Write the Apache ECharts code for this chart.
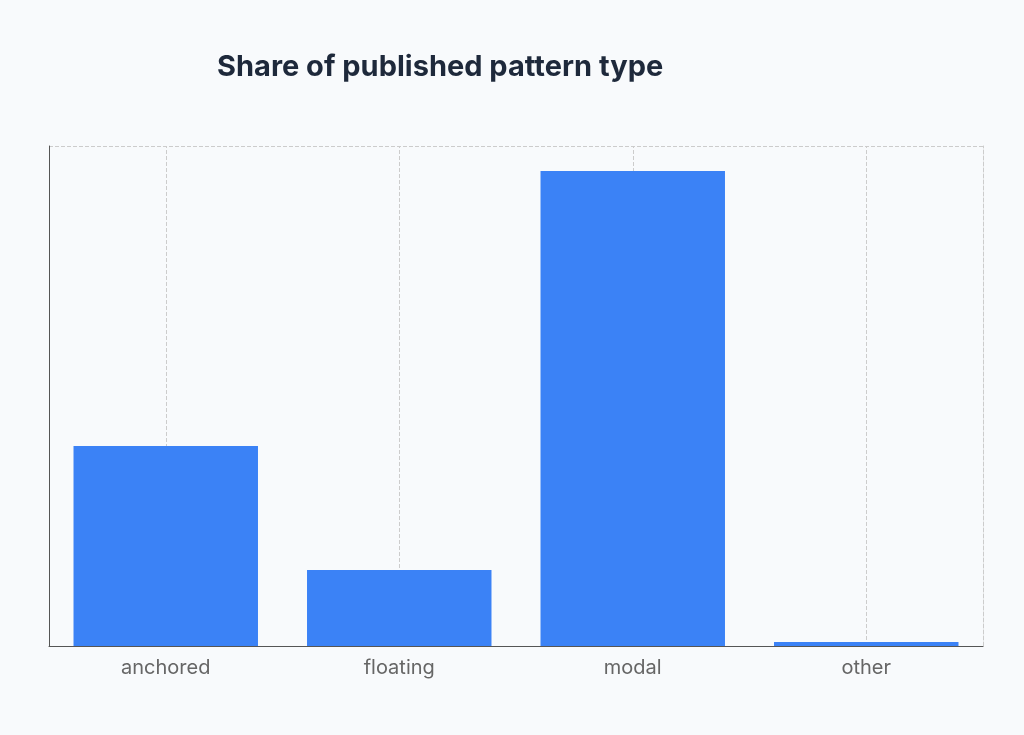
<!DOCTYPE html>
<html><head><meta charset="utf-8">
<script src="https://cdn.jsdelivr.net/npm/echarts@6/dist/echarts.min.js"></script>
<style>html,body{margin:0;background:#f8fafc}#c{width:1024px;height:735px}</style>
</head><body><div id="c"></div>
<script>
const categories = ['anchored', 'floating', 'modal', 'other'];
const values = [40, 15.2, 95, 0.8];
const chart = echarts.init(document.getElementById('c'));
chart.setOption({
  backgroundColor: '#f8fafc',
  title: { text: 'Share of published pattern type', left: 212, top: 48,
    textStyle: { fontFamily: 'Inter', fontWeight: 'bold', fontSize: 29, color: '#1e293b' } },
  grid: { left: 49, right: 41, top: 146, bottom: 89 },
  xAxis: { type: 'category', data: categories,
    axisLine: { lineStyle: { color: '#555' } }, axisTick: { show: false },
    axisLabel: { fontFamily: 'Inter', fontSize: 20, color: '#666', margin: 12 } },
  yAxis: [
    { type: 'value', min: 0, max: 100, interval: 100,
      axisLine: { show: true, lineStyle: { color: '#555' } }, axisLabel: { show: false },
      axisTick: { show: false },
      splitLine: { lineStyle: { type: 'dashed', color: '#ccc' } } },
    { type: 'value', min: 0, max: 100, interval: 100, position: 'right',
      axisLine: { show: true, lineStyle: { type: 'dashed', color: '#ccc' } },
      axisLabel: { show: false }, axisTick: { show: false }, splitLine: { show: false } }
  ],
  series: [{ type: 'bar', data: values, barCategoryGap: '21%',
    itemStyle: { color: '#3b82f6' },
    markLine: { silent: true, symbol: 'none', label: { show: false },
      lineStyle: { type: 'dashed', color: '#ccc', width: 1 }, z: 0,
      data: categories.map(c => ({ xAxis: c })) } }]
});
</script></body></html>
